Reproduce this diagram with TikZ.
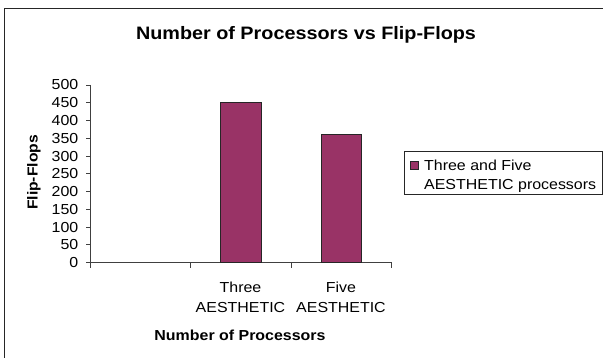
\documentclass[tikz,border=0pt]{standalone}
\usepackage{fontspec}
\setmainfont{Liberation Sans}
\usepackage{graphicx}
% horizontally widened text, as the chart renderer sets it
\newcommand{\wtxt}[2][1.1]{\scalebox{#1}[1]{#2}}

\definecolor{barfill}{HTML}{993366}
\definecolor{axisgray}{HTML}{404040}

\tikzset{
  plain/.style={inner sep=0pt, text=black, font=\fontsize{14.5}{20}\selectfont},
  legendtext/.style={inner sep=0pt, text=black, font=\fontsize{14.5}{19}\selectfont},
  heading/.style={inner sep=0pt, text=black, font=\bfseries\fontsize{18}{22}\selectfont},
  axistitle/.style={inner sep=0pt, text=black, font=\bfseries\fontsize{14.5}{18}\selectfont},
  axisline/.style={draw=axisgray, line width=0.9pt},
  barbox/.style={fill=barfill, draw=black!85, line width=0.9pt},
  framebox/.style={draw=black!85, line width=1.4pt},
  legendbox/.style={draw=black!85, line width=0.9pt, inner sep=0pt,
                    minimum width=198pt, minimum height=43pt},
}

\begin{document}
\begin{tikzpicture}[x=1pt,y=-1pt]
\useasboundingbox (0,0) rectangle (603,358);

% outer chart frame (top and left edges)
\draw[framebox] (4.7,358) -- (4.7,8.7) -- (603,8.7);

% title
\node[heading, anchor=base] (title) at (306,40) {\wtxt[1.1]{Number of Processors vs Flip-Flops}};

% axes
\coordinate (origin) at (90,262.7);
\coordinate (ytop) at (90,85);
\coordinate (xend) at (391.5,262.7);
\draw[axisline] (ytop) -- (origin) -- (xend);

% value axis ticks and labels (17.77 units per 50)
\foreach \v [count=\i from 0] in {0,50,...,500} {
  \coordinate (yt\i) at (90,262.7-\i*17.77);
  \draw[axisline] (yt\i) -- ++(-4,0);
  \node[plain, anchor=east] (ylab\i) at (78.5,262.7-\i*17.77) {\wtxt{\v}};
}

% category axis ticks
\foreach \x [count=\i] in {90,190.5,291,391.5} {
  \coordinate (xt\i) at (\x,262.7);
  \draw[axisline] (xt\i) -- ++(0,5);
}

% bars: 450 and 360
\draw[barbox] (220,262.7) rectangle (261.5,262.7-9*17.77);
\draw[barbox] (321,262.7) rectangle (361.5,262.7-7.2*17.77);

% category labels
\node[plain, align=center] (cat2) at (240.5,297) {\wtxt{Three}\\\wtxt{AESTHETIC}};
\node[plain, align=center] (cat3) at (341,297) {\wtxt{Five}\\\wtxt{AESTHETIC}};

% axis titles
\node[axistitle, anchor=base] (xtitle) at (240,340.5) {\wtxt[1.1]{Number of Processors}};
\node[axistitle, rotate=90] (ytitle) at (34,172.5) {\wtxt[1.08]{Flip-Flops}};

% legend
\node[legendbox] (legend) at (503,172.5) {};
\draw[fill=barfill, draw=black!85, line width=0.8pt] (410.5,161) rectangle (418.5,169);
\node[legendtext, align=left, anchor=north west] (legtext) at (424,159.6)
  {\wtxt{Three and Five}\\\wtxt{AESTHETIC processors}};
\end{tikzpicture}
\end{document}
